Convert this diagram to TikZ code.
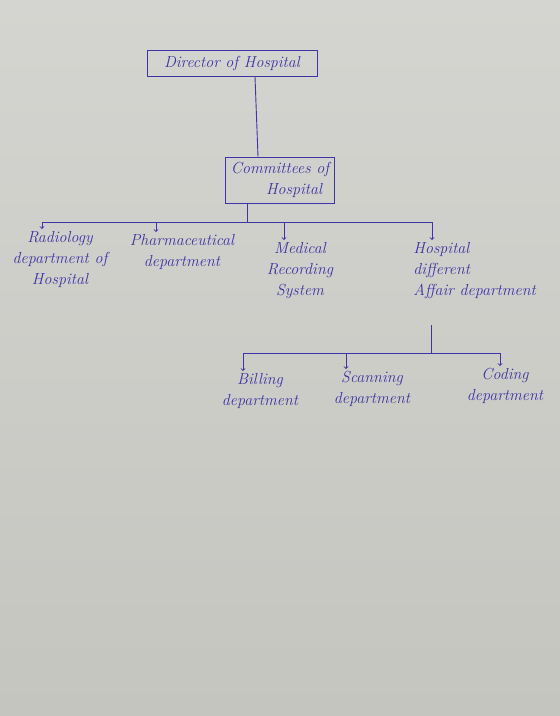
\documentclass[tikz,border=0pt]{standalone}
\usetikzlibrary{arrows}
\definecolor{ink}{RGB}{62,52,165}
\definecolor{papertop}{RGB}{212,213,208}
\definecolor{paperbot}{RGB}{196,197,191}

\begin{document}
\begin{tikzpicture}[x=1pt,y=-1pt,line width=0.9pt,color=ink,
  every node/.style={font=\fontsize{16}{21}\selectfont\itshape,text=ink,inner sep=2pt},
  box/.style={draw=ink,inner sep=5pt},
  unit/.style={anchor=north,align=center}]
  \shade[top color=papertop,bottom color=paperbot] (0,0) rectangle (560,716);

  \node[box,minimum width=170pt,minimum height=26pt] (dir) at (232,63) {Director of Hospital};
  \node[box,align=left,minimum width=105pt,minimum height=46pt] (com) at (280,180)
    {Committees of\\\hspace*{2.2em}Hospital};

  \node[unit] (rad) at (60,229) {Radiology\\department of\\Hospital};
  \node[unit] (pha) at (182,232) {Pharmaceutical\\department};
  \node[unit] (med) at (300,240) {Medical\\Recording\\System};
  \node[unit,align=left,anchor=north west] (aff) at (411,240) {Hospital\\different\\Affair department};

  \node[unit] (bil) at (260,371) {Billing\\department};
  \node[unit] (sca) at (372,369) {Scanning\\department};
  \node[unit] (cod) at (505,366) {Coding\\department};

  % first level bus
  \coordinate (t1) at (247,222);
  \coordinate (r) at (42,222);
  \coordinate (p) at (156,222);
  \coordinate (m) at (284,222);
  \coordinate (a) at (432,222);
  % second level bus
  \coordinate (t2) at (431,353);
  \coordinate (b) at (243,353);
  \coordinate (s) at (346,353);
  \coordinate (c) at (500,353);

  \draw (dir.south -| 255,0) -- (com.north -| 258,0);
  \draw (com.south -| t1) -- (t1);
  \draw (r) -- (a);
  \path[-to]
    (r) edge (r |- rad.north)
    (p) edge (p |- pha.north)
    (m) edge (m |- med.north)
    (a) edge (a |- aff.north);
  \draw (aff.south -| t2) ++(0,24) -- (t2);
  \draw (b) -- (c);
  \path[-to]
    (b) edge (b |- bil.north)
    (s) edge (s |- sca.north)
    (c) edge (c |- cod.north);
\end{tikzpicture}
\end{document}
